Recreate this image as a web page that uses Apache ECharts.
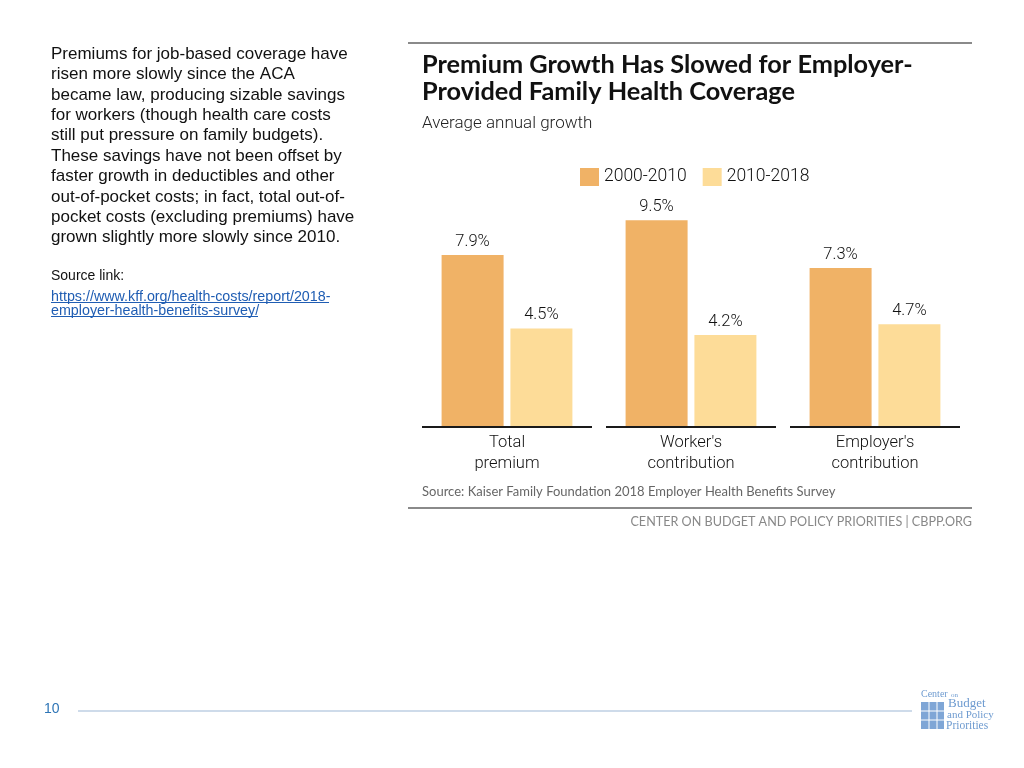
<!DOCTYPE html>
<html><head><meta charset="utf-8">
<script src="https://cdn.jsdelivr.net/npm/echarts@6/dist/echarts.min.js"></script>
<style>html,body{margin:0;padding:0;background:#fff}#c{width:1024px;height:768px}</style>
</head><body><div id="c"></div>
<script>
const categories = ['Total\npremium', "Worker's\ncontribution", "Employer's\ncontribution"];
const seriesNames = ['2000-2010', '2010-2018'];
const growth2000to2010 = [7.9, 9.5, 7.3];
const growth2010to2018 = [4.5, 4.2, 4.7];
const baselineValues = [0, 0, 0];

const titleText = 'Premium Growth Has Slowed for Employer-\nProvided Family Health Coverage';
const subtitleText = 'Average annual growth';
const sourceText = 'Source: Kaiser Family Foundation 2018 Employer Health Benefits Survey';
const creditText = 'CENTER ON BUDGET AND POLICY PRIORITIES | CBPP.ORG';
const bodyLines = [
  'Premiums for job-based coverage have',
  'risen more slowly since the ACA',
  'became law, producing sizable savings',
  'for workers (though health care costs',
  'still put pressure on family budgets).',
  'These savings have not been offset by',
  'faster growth in deductibles and other',
  'out-of-pocket costs; in fact, total out-of-',
  'pocket costs (excluding premiums) have',
  'grown slightly more slowly since 2010.'
];
const linkLines = ['https://www.kff.org/health-costs/report/2018-', 'employer-health-benefits-survey/'];

const COND = 'Roboto, sans-serif';
const C1 = '#F0B266', C2 = '#FDDC98';

const chart = echarts.init(document.getElementById('c'), null, {renderer: 'canvas'});

const graphics = [
  {type: 'line', shape: {x1: 408, y1: 43, x2: 972, y2: 43}, style: {stroke: '#8a8a8a', lineWidth: 2}},
  {type: 'text', left: 422, top: 51, style: {text: titleText, font: 'bold 25.3px Lato, "Open Sans", sans-serif', fill: '#111', lineHeight: 27}},
  {type: 'text', left: 422, top: 115, style: {text: subtitleText, font: '300 17px ' + COND, fill: '#222'}},
  {type: 'text', left: 422, top: 485, style: {text: sourceText, font: '13px Lato, "Open Sans", sans-serif', fill: '#666'}},
  {type: 'line', shape: {x1: 408, y1: 508, x2: 972, y2: 508}, style: {stroke: '#8a8a8a', lineWidth: 2}},
  {type: 'text', right: 52, top: 515, style: {text: creditText, font: '12.6px Lato, "Open Sans", sans-serif', fill: '#888', align: 'right'}},
  {type: 'text', left: 51, top: 44, style: {text: bodyLines.join('\n'), font: '17px "Liberation Sans", Arial, sans-serif', fill: '#111', lineHeight: 20.4}},
  {type: 'text', left: 51, top: 269, style: {text: 'Source link:', font: '14px "Liberation Sans", Arial, sans-serif', fill: '#111'}},
  {type: 'text', left: 51, top: 290, style: {text: linkLines.join('\n'), font: '14.3px "Liberation Sans", Arial, sans-serif', fill: '#1F5DB3', lineHeight: 14}},
  {type: 'line', shape: {x1: 51, y1: 302.5, x2: 329, y2: 302.5}, style: {stroke: '#1F5DB3', lineWidth: 1}},
  {type: 'line', shape: {x1: 51, y1: 316.5, x2: 258, y2: 316.5}, style: {stroke: '#1F5DB3', lineWidth: 1}},
  {type: 'text', left: 44, top: 702, style: {text: '10', font: '14px "Liberation Sans", Arial, sans-serif', fill: '#2E75B6'}},
  {type: 'line', shape: {x1: 78, y1: 711, x2: 912, y2: 711}, style: {stroke: '#9DB7D5', lineWidth: 1}},
  // logo
  {type: 'text', left: 921, top: 689, style: {text: 'Center', font: '10px "Liberation Serif", serif', fill: '#6E9BD0'}},
  {type: 'text', left: 951, top: 692, style: {text: 'on', font: '7px "Liberation Serif", serif', fill: '#6E9BD0'}},
  {type: 'rect', shape: {x: 921, y: 702, width: 23, height: 27}, style: {fill: '#7FA6D6'}},
  {type: 'line', shape: {x1: 921, y1: 711, x2: 944, y2: 711}, style: {stroke: '#fff', lineWidth: 1}},
  {type: 'line', shape: {x1: 921, y1: 720, x2: 944, y2: 720}, style: {stroke: '#fff', lineWidth: 1}},
  {type: 'line', shape: {x1: 929, y1: 702, x2: 929, y2: 729}, style: {stroke: '#fff', lineWidth: 1}},
  {type: 'line', shape: {x1: 937, y1: 702, x2: 937, y2: 729}, style: {stroke: '#fff', lineWidth: 1}},
  {type: 'text', left: 948, top: 697, style: {text: 'Budget', font: '13px "Liberation Serif", serif', fill: '#6E9BD0'}},
  {type: 'text', left: 947, top: 710, style: {text: 'and Policy', font: '11px "Liberation Serif", serif', fill: '#6E9BD0'}},
  {type: 'text', left: 946, top: 720, style: {text: 'Priorities', font: '11.5px "Liberation Serif", serif', fill: '#6E9BD0'}}
];

const labelStyle = {
  show: true, position: 'top', distance: 5,
  formatter: p => p.value.toFixed(1) + '%',
  fontFamily: COND, fontWeight: 300, fontSize: 16.5, color: '#111'
};

chart.setOption({
  animation: false,
  backgroundColor: '#fff',
  graphic: graphics,
  legend: {
    data: seriesNames,
    left: 575, top: 163,
    icon: 'rect', itemWidth: 19, itemHeight: 18, itemGap: 16,
    textStyle: {fontFamily: COND, fontWeight: 300, fontSize: 17.5, color: '#111', padding: [0, 0, 0, 0]}
  },
  grid: {left: 415, right: 57, top: 209.5, bottom: 342},
  xAxis: {
    type: 'category', data: categories,
    axisLine: {show: false}, axisTick: {show: false},
    axisLabel: {margin: 6, fontFamily: COND, fontWeight: 300, fontSize: 16.5, color: '#111', lineHeight: 21}
  },
  yAxis: {type: 'value', min: 0, max: 10, show: false, splitLine: {show: false}},
  series: [
    {name: seriesNames[0], type: 'bar', data: growth2000to2010, barWidth: 62, barGap: '11%', itemStyle: {color: C1}, label: labelStyle},
    {name: seriesNames[1], type: 'bar', data: growth2010to2018, barWidth: 62, itemStyle: {color: C2}, label: labelStyle},
    {
      type: 'custom', data: baselineValues, silent: true, z: 5,
      renderItem: function (params, api) {
        const pt = api.coord([api.value(0), api.value(1)]);
        const band = api.size([1, 0])[0];
        const half = (band - 14) / 2;
        return {type: 'line', shape: {x1: pt[0] - half, y1: pt[1] + 1, x2: pt[0] + half, y2: pt[1] + 1}, style: {stroke: '#1a1a1a', lineWidth: 2}};
      },
      encode: {x: 0, y: 1}
    }
  ]
});
</script></body></html>
